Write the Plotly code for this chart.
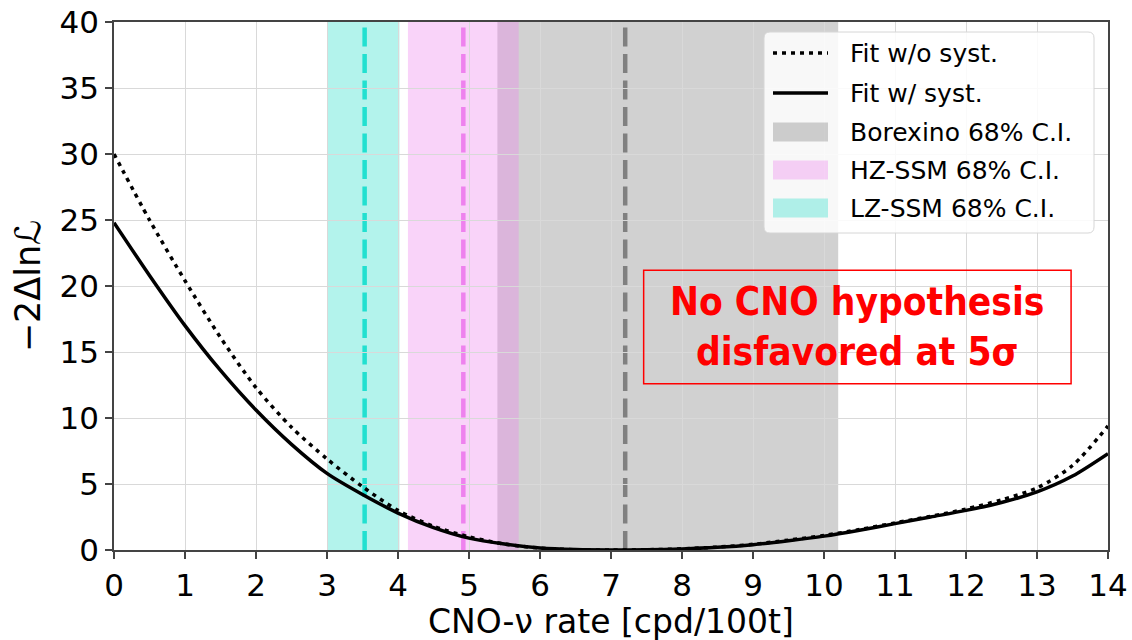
import plotly.graph_objects as go

# Likelihood profile of the CNO-nu interaction rate
rate = [0, 0.5, 1, 1.5, 2, 2.5, 3, 3.5, 4, 4.5, 5, 5.5, 6, 6.5, 7,
        7.5, 8, 8.5, 9, 9.5, 10, 10.5, 11, 11.5, 12, 12.5, 13, 13.5, 14]
nll_with_syst = [24.8, 20.8, 17.0, 13.6, 10.6, 8.0, 5.8, 4.2, 2.8, 1.7, 0.9, 0.45, 0.15, 0.03, 0.0,
                 0.02, 0.08, 0.2, 0.4, 0.7, 1.05, 1.5, 2.0, 2.5, 3.0, 3.6, 4.4, 5.6, 7.3]
nll_no_syst = [30.0, 25.0, 20.4, 16.1, 12.3, 9.3, 6.9, 4.8, 3.0, 1.8, 1.0, 0.45, 0.15, 0.02, 0.0,
               0.02, 0.09, 0.22, 0.43, 0.75, 1.1, 1.55, 2.05, 2.55, 3.1, 3.8, 4.7, 6.4, 9.4]

# 68% confidence intervals: (low, central, high)
borexino_ci = (5.4, 7.2, 10.2)
hz_ssm_ci = (4.14, 4.92, 5.7)
lz_ssm_ci = (3.0, 3.53, 4.02)

bands = [("Borexino 68% C.I.", borexino_ci),
         ("HZ-SSM 68% C.I.", hz_ssm_ci),
         ("LZ-SSM 68% C.I.", lz_ssm_ci)]
band_fill = {
    "Borexino 68% C.I.": "rgba(128,128,128,0.36)",
    "HZ-SSM 68% C.I.": "rgba(238,130,238,0.35)",
    "LZ-SSM 68% C.I.": "rgba(64,224,208,0.40)",
}
band_line = {
    "Borexino 68% C.I.": "#808080",
    "HZ-SSM 68% C.I.": "#ee82ee",
    "LZ-SSM 68% C.I.": "#22e0d0",
}

x_ticks = list(range(0, 15))
y_ticks = list(range(0, 45, 5))

W, H = 1132, 640
ML, MR, MT, MB = 114, 24, 22, 90
PW, PH = W - ML - MR, H - MT - MB


def px(x):
    """Pixel column -> paper x."""
    return (x - ML) / PW


def py(y):
    """Pixel row -> paper y."""
    return (H - MB - y) / PH


fig = go.Figure()

shapes = []
for name, (lo, mid, hi) in bands:
    shapes.append(dict(type="rect", xref="x", yref="y", x0=lo, x1=hi, y0=0, y1=40,
                       fillcolor=band_fill[name], line=dict(width=0), layer="below"))
for name, (lo, mid, hi) in bands:
    shapes.append(dict(type="line", xref="x", yref="y", x0=mid, x1=mid, y0=0, y1=40,
                       line=dict(color=band_line[name], width=4.5, dash="19px,7.5px"),
                       layer="below"))

dotted = dict(color="black", width=3.5, dash="4px,5px")
solid = dict(color="black", width=3.5)

fig.add_trace(go.Scatter(x=rate, y=nll_no_syst, mode="lines", name="Fit w/o syst.",
                         line=dict(shape="spline", smoothing=0.8, **dotted)))
fig.add_trace(go.Scatter(x=rate, y=nll_with_syst, mode="lines", name="Fit w/ syst.",
                         line=dict(shape="spline", smoothing=0.8, **solid)))

# Legend panel
x0, x1, y0, y1, r = px(764), px(1094), py(32), py(233), 6
rx, ry = r / PW, r / PH
shapes.append(dict(
    type="path", xref="paper", yref="paper", layer="above",
    path=(f"M {x0+rx},{y0} L {x1-rx},{y0} Q {x1},{y0} {x1},{y0-ry} "
          f"L {x1},{y1+ry} Q {x1},{y1} {x1-rx},{y1} L {x0+rx},{y1} "
          f"Q {x0},{y1} {x0},{y1+ry} L {x0},{y0-ry} Q {x0},{y0} {x0+rx},{y0} Z"),
    fillcolor="rgba(255,255,255,0.85)", line=dict(color="#d6d6d6", width=1)))

legend_rows = [53, 93, 132, 170, 208]
legend_labels = ["Fit w/o syst.", "Fit w/ syst."] + [b[0] for b in bands]
shapes.append(dict(type="line", xref="paper", yref="paper", layer="above",
                   x0=px(773), x1=px(828), y0=py(legend_rows[0]), y1=py(legend_rows[0]),
                   line=dotted))
shapes.append(dict(type="line", xref="paper", yref="paper", layer="above",
                   x0=px(773), x1=px(828), y0=py(legend_rows[1]), y1=py(legend_rows[1]),
                   line=solid))
for row, (name, _) in zip(legend_rows[2:], bands):
    shapes.append(dict(type="rect", xref="paper", yref="paper", layer="above",
                       x0=px(773), x1=px(828), y0=py(row - 9.5), y1=py(row + 9.5),
                       fillcolor=band_fill[name], line=dict(width=0)))
for row, label in zip(legend_rows, legend_labels):
    fig.add_annotation(x=px(848), y=py(row), xref="paper", yref="paper", text=label,
                       showarrow=False, xanchor="left", yanchor="middle",
                       font=dict(family="DejaVu Sans", size=25, color="black"))

# Red statement box
shapes.append(dict(type="rect", xref="x", yref="y", x0=7.46, x1=13.48, y0=12.6, y1=21.2,
                   line=dict(color="#ff0000", width=1.5), fillcolor="rgba(0,0,0,0)",
                   layer="above"))
fig.add_annotation(x=10.47, y=16.9, xref="x", yref="y",
                   text="<b>No CNO hypothesis<br>disfavored at 5σ</b>",
                   showarrow=False, align="center",
                   font=dict(family="DejaVu Sans Condensed, DejaVu Sans", size=38.5,
                             color="#ff0000"))

# x-axis title, set just under the tick labels
fig.add_annotation(x=0.5, y=py(601), xref="paper", yref="paper",
                   text="CNO-ν rate [cpd/100t]", showarrow=False,
                   xanchor="center", yanchor="top", borderpad=0,
                   font=dict(family="DejaVu Sans", size=33, color="black"))

axis_common = dict(showgrid=True, gridcolor="#d9d9d9", gridwidth=1,
                   showline=True, linecolor="#444444", linewidth=1.5, mirror=True,
                   ticks="outside", ticklen=7, tickcolor="#444444", tickwidth=1.5,
                   zeroline=False, automargin=False,
                   tickfont=dict(family="DejaVu Sans", size=31, color="black"))

fig.update_layout(
    width=W, height=H,
    margin=dict(l=ML, r=MR, t=MT, b=MB),
    paper_bgcolor="white", plot_bgcolor="white",
    shapes=shapes,
    showlegend=False,
    xaxis=dict(range=[0, 14], tickvals=x_ticks, ticktext=[str(v) for v in x_ticks],
               **axis_common),
    yaxis=dict(range=[0, 40], tickvals=y_ticks, ticktext=[str(v) for v in y_ticks],
               title=dict(text="−2Δln<i>ℒ</i>", standoff=8,
                          font=dict(family="DejaVu Sans", size=35, color="black")),
               **axis_common),
)

fig.write_html("out.html")
